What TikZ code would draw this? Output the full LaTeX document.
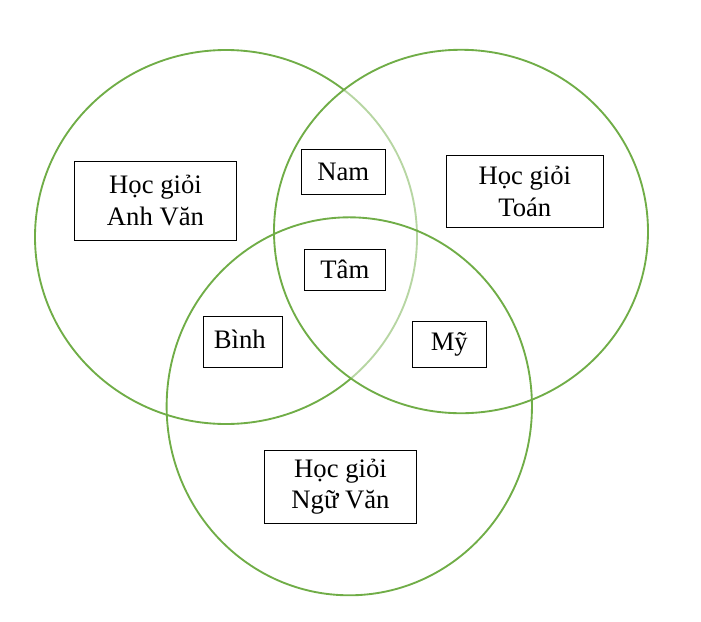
\documentclass[tikz,border=0pt]{standalone}
\usepackage{fontspec}
\setmainfont{Liberation Serif}
\definecolor{vgreen}{HTML}{70AD47}
\begin{document}
\begin{tikzpicture}[x=0.75pt,y=-0.75pt,
  ring/.style={draw=vgreen,line width=1.4pt},
  lbl/.style={draw=black,fill=white,line width=0.75pt,inner sep=0pt,align=center,
    font=\fontsize{20pt}{23.7pt}\selectfont}]
\useasboundingbox (0,0) rectangle (701,622);
% left circle (Anh Van)
\draw[ring] (226,237) ellipse [x radius=143.25pt, y radius=140.25pt];
% lighten the part of the left circle that lies inside the right circle
\fill[white,opacity=0.5] (461,231.5) ellipse [x radius=140.25pt, y radius=136.3pt];
% right circle (Toan)
\draw[ring] (461,231.5) ellipse [x radius=140.25pt, y radius=136.3pt];
% bottom circle (Ngu Van)
\draw[ring] (349.3,406.3) ellipse [x radius=137pt, y radius=141.75pt];
% labels
\node[lbl,minimum width=121.9pt,minimum height=59.25pt] (anh) at (155.5,200.5) {Học giỏi\\Anh Văn};
\node[lbl,minimum width=117.75pt,minimum height=54pt] (toan) at (524.8,191.3) {Học giỏi\\Toán};
\node[lbl,minimum width=63pt,minimum height=33.75pt] (nam) at (343.3,171.8) {Nam};
\node[lbl,minimum width=60.75pt,minimum height=30.5pt] (tam) at (344.8,269.7) {Tâm};
\node[lbl,minimum width=59.25pt,minimum height=38.5pt] (binh) at (242.8,341.7) {\raisebox{3.4pt}{Bình\hspace{4.5pt}}};
\node[lbl,minimum width=55.5pt,minimum height=34.5pt] (my) at (449.3,344.3) {Mỹ};
\node[lbl,minimum width=114.3pt,minimum height=55pt] (ngu) at (340.5,486.7) {Học giỏi\\Ngữ Văn};
\end{tikzpicture}
\end{document}
